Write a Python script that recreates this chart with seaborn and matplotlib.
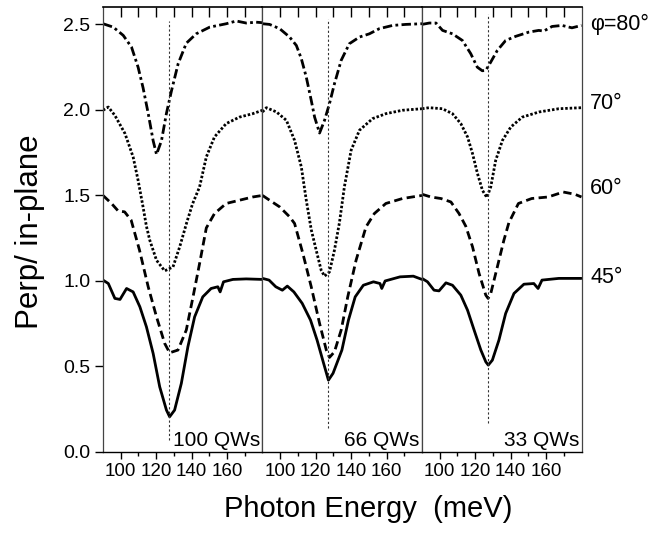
import numpy as np
import pandas as pd
import matplotlib
matplotlib.use("Agg")
import matplotlib.pyplot as plt
import matplotlib.lines as mlines
import seaborn as sns

sns.set_theme(style="ticks")
plt.rcParams['font.family'] = ['Liberation Sans', 'DejaVu Sans']
plt.rcParams['text.color'] = 'black'
plt.rcParams['xtick.color'] = 'black'
plt.rcParams['ytick.color'] = 'black'

# ---------------- data ----------------
panels = ["100 QWs", "66 QWs", "33 QWs"]
angles = ["45°", "60°", "70°", "φ=80°"]

# 100 QWs
e_100_45 = [90, 93, 96.7, 99.6, 103.3, 107, 110.8, 114.5, 118.3, 122, 125.8, 127.6, 130.4, 134.2, 137.9, 141.7, 146.3, 151, 154.8, 156.1, 158, 163.3, 170.8, 180]
r_100_45 = [1.005, 0.985, 0.898, 0.892, 0.956, 0.936, 0.849, 0.732, 0.576, 0.381, 0.245, 0.206, 0.245, 0.401, 0.615, 0.79, 0.907, 0.956, 0.966, 0.936, 0.995, 1.009, 1.012, 1.009]
e_100_60 = [90, 94.8, 98.5, 102.2, 105.9, 110.6, 115.5, 120.2, 124.8, 127.6, 132.3, 137, 140.8, 144.5, 148.3, 152.9, 159.5, 167, 174.5, 180]
r_100_60 = [1.50, 1.453, 1.41, 1.404, 1.355, 1.18, 0.966, 0.79, 0.635, 0.58, 0.596, 0.713, 0.907, 1.102, 1.31, 1.394, 1.453, 1.472, 1.491, 1.50]
e_100_70 = [90, 93, 96.7, 102.4, 107, 109.8, 112.6, 114.5, 116.4, 120.2, 124.8, 129.5, 133.3, 137.2, 140.5, 144.5, 148.3, 152.9, 159.5, 167, 174.5, 180]
r_100_70 = [1.998, 2.017, 1.968, 1.862, 1.725, 1.589, 1.433, 1.32, 1.238, 1.121, 1.059, 1.082, 1.2, 1.34, 1.45, 1.55, 1.725, 1.842, 1.92, 1.958, 1.978, 1.998]
e_100_80 = [90, 95.8, 101.4, 106.1, 109.8, 112.6, 115.5, 118.3, 120.2, 123, 125.8, 128.6, 132.4, 137, 142.6, 150.2, 159.6, 165.2, 170.8, 176.4, 180]
r_100_80 = [2.504, 2.484, 2.436, 2.367, 2.25, 2.13, 1.98, 1.82, 1.74, 1.82, 1.98, 2.11, 2.27, 2.39, 2.445, 2.484, 2.504, 2.52, 2.508, 2.513, 2.51]

# 66 QWs
e_66_45 = [90, 93.7, 97.5, 101.2, 104, 107.7, 112.4, 117.1, 120.8, 124.5, 127.2, 129.8, 134.8, 138.5, 142.3, 146.9, 152.6, 156.3, 157.3, 159.2, 167.6, 175.1, 180]
r_66_45 = [1.015, 1.005, 0.966, 0.946, 0.97, 0.936, 0.869, 0.771, 0.654, 0.518, 0.42, 0.46, 0.596, 0.771, 0.907, 0.975, 0.995, 0.985, 0.956, 1.0, 1.024, 1.028, 1.009]
e_66_60 = [90, 94, 99.7, 105.3, 108.1, 112.8, 117.5, 122.2, 126, 127.8, 130.6, 134.4, 138.1, 142.8, 148.4, 153.1, 159.6, 169, 180]
r_66_60 = [1.50, 1.472, 1.433, 1.375, 1.336, 1.16, 0.966, 0.752, 0.596, 0.553, 0.586, 0.713, 0.907, 1.121, 1.316, 1.394, 1.453, 1.482, 1.50]
e_66_70 = [90, 92.2, 97.9, 103.5, 108.1, 111.9, 114.7, 117.5, 120.3, 123.1, 125, 127.8, 130.6, 133.4, 136.2, 140, 144.7, 152.1, 159.6, 169, 180]
r_66_70 = [1.988, 2.013, 1.988, 1.939, 1.822, 1.667, 1.472, 1.30, 1.18, 1.063, 1.028, 1.053, 1.18, 1.34, 1.55, 1.764, 1.881, 1.949, 1.978, 1.998, 2.007]
e_66_80 = [90, 94, 99.7, 105.3, 109.1, 111.9, 114.7, 117.5, 119.4, 122.2, 125, 127.8, 130.6, 134.4, 139, 144.7, 150.3, 155.9, 163.4, 170.9, 180]
r_66_80 = [2.504, 2.5, 2.475, 2.426, 2.377, 2.3, 2.192, 2.056, 1.958, 1.865, 1.939, 2.037, 2.153, 2.29, 2.387, 2.426, 2.445, 2.475, 2.494, 2.5, 2.504]

# 33 QWs
e_33_45 = [90, 93.1, 96.8, 99.6, 103.5, 107.2, 111.9, 115.7, 119.4, 123.2, 126, 127.4, 129.7, 133.4, 137.2, 141.9, 147.5, 153.1, 155.5, 157.7, 167.2, 180]
r_33_45 = [1.015, 0.995, 0.946, 0.942, 0.989, 0.975, 0.917, 0.829, 0.713, 0.596, 0.527, 0.508, 0.537, 0.654, 0.81, 0.927, 0.981, 0.985, 0.956, 1.005, 1.015, 1.015]
e_33_60 = [90, 95, 100.7, 106.3, 110.9, 114.7, 118.5, 122.2, 126, 127.3, 128.8, 132.5, 136.2, 139, 144.4, 151.9, 161.2, 169.7, 176.2, 180]
r_33_60 = [1.507, 1.491, 1.482, 1.462, 1.394, 1.32, 1.2, 1.044, 0.917, 0.898, 0.927, 1.082, 1.238, 1.34, 1.453, 1.482, 1.491, 1.52, 1.507, 1.491]
e_33_70 = [90, 94, 101.5, 107.2, 111.9, 115.7, 118.5, 121.3, 124.1, 126.6, 128.8, 131.6, 135.4, 140.1, 146.6, 156, 167.2, 180]
r_33_70 = [2.007, 2.013, 2.007, 1.978, 1.92, 1.842, 1.745, 1.628, 1.53, 1.488, 1.55, 1.706, 1.822, 1.9, 1.958, 1.988, 2.007, 2.013]
e_33_80 = [90, 94.1, 97.9, 101.6, 107.2, 112.8, 117.5, 121.2, 124, 126, 128.8, 132.5, 137.2, 142.8, 150.3, 155.9, 158.7, 163.4, 169, 174.6, 180]
r_33_80 = [2.5, 2.508, 2.508, 2.465, 2.445, 2.406, 2.329, 2.25, 2.229, 2.231, 2.28, 2.348, 2.406, 2.43, 2.455, 2.465, 2.461, 2.488, 2.494, 2.48, 2.494]

# vertical reference (dotted) lines per panel
ref_energy = [127.4, 127.0, 127.0]
ref_top = [2.52, 2.53, 2.56]
ref_bottom = [0.07, 0.14, 0.17]

# angle labels at right
angle_label_y = [1.02, 1.54, 2.04, 2.50]

x_major = [100, 120, 140, 160]
x_minor = [110, 130, 150, 170]
y_ticks = [0.0, 0.5, 1.0, 1.5, 2.0, 2.5]

# ---------------- assemble long table ----------------
curves = {
    ("100 QWs", "45°"): (e_100_45, r_100_45), ("100 QWs", "60°"): (e_100_60, r_100_60),
    ("100 QWs", "70°"): (e_100_70, r_100_70), ("100 QWs", "φ=80°"): (e_100_80, r_100_80),
    ("66 QWs", "45°"): (e_66_45, r_66_45), ("66 QWs", "60°"): (e_66_60, r_66_60),
    ("66 QWs", "70°"): (e_66_70, r_66_70), ("66 QWs", "φ=80°"): (e_66_80, r_66_80),
    ("33 QWs", "45°"): (e_33_45, r_33_45), ("33 QWs", "60°"): (e_33_60, r_33_60),
    ("33 QWs", "70°"): (e_33_70, r_33_70), ("33 QWs", "φ=80°"): (e_33_80, r_33_80),
}
frames = []
for (p, a), (e, r) in curves.items():
    frames.append(pd.DataFrame({"panel": p, "angle": a, "energy": e, "ratio": r}))
df = pd.concat(frames, ignore_index=True)

dash_map = {"45°": "", "60°": (3.0, 1.6), "70°": (0.9, 0.7), "φ=80°": (3.4, 1.2, 1.0, 1.2)}

# ---------------- figure ----------------
fig = plt.figure(figsize=(6.49, 5.37), dpi=100)
axes = fig.subplots(1, 3, sharey=True)
fig.subplots_adjust(left=0.1587, right=0.896, bottom=0.1583, top=0.9864, wspace=0)

for i, (ax, p) in enumerate(zip(axes, panels)):
    sub = df[df["panel"] == p]
    sns.lineplot(data=sub, x="energy", y="ratio", style="angle", style_order=angles,
                 dashes=dash_map, color="black", lw=2.0, sort=False,
                 estimator=None, legend=False, ax=ax,
                 solid_joinstyle="round", dash_joinstyle="round")
    ax.vlines(ref_energy[i], ref_bottom[i], ref_top[i], colors="#333333",
              linestyles=(0, (2.0, 2.0)), lw=0.8)
    ax.set_xlim(90, 180)
    ax.set_ylim(0, 2.6)
    ax.set_xticks(x_major)
    ax.set_xticks(x_minor, minor=True)
    ax.tick_params(axis="x", which="major", direction="out", length=5, width=1,
                   labelsize=13.5, pad=3, colors="black", top=True, bottom=True)
    ax.tick_params(axis="x", which="minor", direction="out", length=3, width=1,
                   top=True, bottom=True)
    ax.set_xlabel("")
    ax.set_ylabel("")
    for s in ax.spines.values():
        s.set_visible(True)
        s.set_linewidth(1.0)
        s.set_color("black")
    for side in ("left", "right"):
        ax.spines[side].set_color("#444444")
        ax.spines[side].set_linewidth(0.9)
    ax.spines["top"].set_linewidth(1.2)
    ax.text(0.985, 0.035, p, transform=ax.get_yaxis_transform(), ha="right",
            va="baseline", fontsize=15, color="black")
    if i > 0:
        ax.tick_params(axis="y", left=False, labelleft=False)

axes[0].set_yticks(y_ticks)
axes[0].set_yticklabels([f"{v:.1f}" for v in y_ticks])
axes[0].tick_params(axis="y", direction="out", length=6, width=1, labelsize=14, pad=3)

for lab, yv in zip(angles, angle_label_y):
    axes[2].text(1.055, yv, lab, transform=axes[2].get_yaxis_transform(), ha="left",
                 va="center", fontsize=15.5, clip_on=False)

fig.text(0.567, 0.052, "Photon Energy  (meV)", ha="center", va="center", fontsize=21)
fig.text(0.046, 0.568, "Perp/ in-plane", ha="center", va="center", rotation=90, fontsize=22.5)

# make the top-edge ticks point inward (down into the panel), all of equal length
fig.canvas.draw()
for ax in axes:
    for t in ax.xaxis.get_major_ticks() + ax.xaxis.get_minor_ticks():
        t.tick2line.set_marker(mlines.TICKDOWN)
        t.tick2line.set_markersize(7)
        t.tick2line.set_markeredgewidth(1.0)
        t.tick2line.set_color("black")

fig.savefig("out.png", dpi=100)
